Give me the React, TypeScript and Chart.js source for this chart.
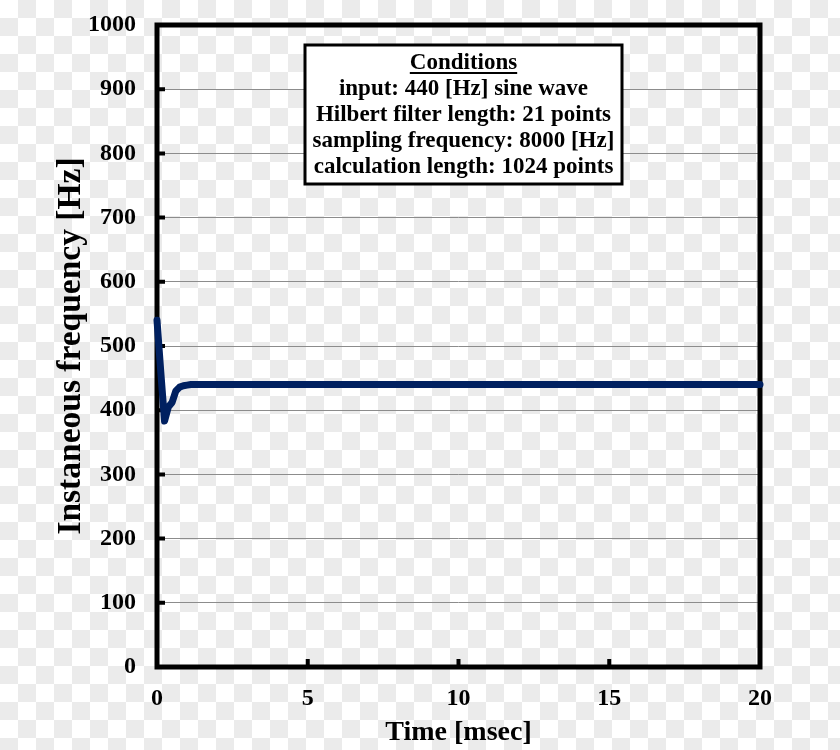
import React, { useEffect, useRef } from "react";
import { Chart, registerables } from "chart.js";

Chart.register(...registerables);

// ---- data ----
const timeMs = [0, 0.125, 0.25, 0.375, 0.5, 0.625, 0.75, 0.875, 1.0, 1.125, 20];
const freqHz = [540, 460, 383, 405, 412, 430, 436, 438, 439, 440, 440];
const xTickValues = [0, 5, 10, 15, 20];
const yTickValues = [0, 100, 200, 300, 400, 500, 600, 700, 800, 900, 1000];
const xTitle = "Time [msec]";
const yTitle = "Instaneous frequency [Hz]";
const conditionsTitle = "Conditions";
const conditionsLines = [
  "input: 440 [Hz] sine wave",
  "Hilbert filter length: 21 points",
  "sampling frequency: 8000 [Hz]",
  "calculation length: 1024 points",
];

const SERIF = "'Liberation Serif', 'Times New Roman', serif";

const checkerPlugin = {
  id: "checker",
  beforeDraw(chart: any) {
    const { ctx, width, height } = chart;
    ctx.save();
    ctx.fillStyle = "#ffffff";
    ctx.fillRect(0, 0, width, height);
    ctx.fillStyle = "#ebebeb";
    const s = 18;
    for (let j = 0; j * s < height; j++) {
      for (let i = 0; i * s < width; i++) {
        if ((i + j) % 2 === 1) ctx.fillRect(i * s, j * s, s, s);
      }
    }
    ctx.restore();
  },
};

const framePlugin = {
  id: "frame",
  beforeDatasetsDraw(chart: any) {
    const { ctx, chartArea } = chart;
    const { left, right, top, bottom } = chartArea;
    const xs = chart.scales.x;
    const ys = chart.scales.y;
    ctx.save();
    ctx.strokeStyle = "#000";
    ctx.lineWidth = 5;
    ctx.strokeRect(left, top, right - left, bottom - top);
    ctx.lineWidth = 4;
    ctx.beginPath();
    yTickValues.forEach((v) => {
      const py = ys.getPixelForValue(v);
      ctx.moveTo(left, py);
      ctx.lineTo(left + 8, py);
    });
    xTickValues.forEach((v) => {
      const px = xs.getPixelForValue(v);
      ctx.moveTo(px, bottom);
      ctx.lineTo(px, bottom - 8);
    });
    ctx.stroke();
    ctx.restore();
  },
};

const conditionsPlugin = {
  id: "conditions",
  afterDraw(chart: any) {
    const { ctx, chartArea } = chart;
    const boxLeft = chartArea.left + 148;
    const boxTop = chartArea.top + 20;
    const boxW = 317;
    const boxH = 139;
    const cx = boxLeft + boxW / 2;
    ctx.save();
    ctx.fillStyle = "#ffffff";
    ctx.fillRect(boxLeft, boxTop, boxW, boxH);
    ctx.strokeStyle = "#000";
    ctx.lineWidth = 3;
    ctx.strokeRect(boxLeft, boxTop, boxW, boxH);
    ctx.fillStyle = "#000";
    ctx.font = `bold 23px ${SERIF}`;
    ctx.textAlign = "center";
    ctx.textBaseline = "middle";
    const lineH = 26;
    const firstY = boxTop + 18;
    ctx.fillText(conditionsTitle, cx, firstY);
    const tw = ctx.measureText(conditionsTitle).width;
    ctx.fillRect(cx - tw / 2, firstY + 9, tw, 2);
    conditionsLines.forEach((t, i) => {
      ctx.fillText(t, cx, firstY + lineH * (i + 1));
    });
    ctx.restore();
  },
};

export default function App() {
  const canvasRef = useRef<HTMLCanvasElement | null>(null);

  useEffect(() => {
    const canvas = canvasRef.current;
    if (!canvas) return;
    const chart = new Chart(canvas, {
      type: "line",
      data: {
        datasets: [
          {
            data: timeMs.map((t, i) => ({ x: t, y: freqHz[i] })),
            borderColor: "#002060",
            backgroundColor: "#002060",
            borderWidth: 7,
            pointRadius: 0,
            tension: 0,
            borderCapStyle: "round",
            borderJoinStyle: "round",
            clip: false,
          } as any,
        ],
      },
      options: {
        animation: false,
        responsive: false,
        maintainAspectRatio: false,
        layout: { padding: { left: 0, right: 80, top: 25, bottom: 0 } },
        plugins: { legend: { display: false }, tooltip: { enabled: false } },
        scales: {
          x: {
            type: "linear",
            min: 0,
            max: 20,
            afterFit: (s: any) => {
              s.height = 83;
              s.paddingLeft = 0;
              s.paddingRight = 0;
            },
            afterBuildTicks: (s: any) => {
              s.ticks = xTickValues.map((v) => ({ value: v }));
            },
            grid: { display: false, drawTicks: false },
            border: { display: false },
            ticks: {
              color: "#000",
              padding: 17,
              font: { family: SERIF, size: 24, weight: "bold" },
              callback: (v: any) => String(v),
            },
            title: {
              display: true,
              text: xTitle,
              color: "#000",
              font: { family: SERIF, size: 28, weight: "bold" },
              padding: { top: 0, bottom: 0 },
            },
          },
          y: {
            type: "linear",
            min: 0,
            max: 1000,
            afterFit: (s: any) => {
              s.width = 157;
              s.paddingTop = 0;
              s.paddingBottom = 0;
            },
            afterBuildTicks: (s: any) => {
              s.ticks = yTickValues.map((v) => ({ value: v }));
            },
            grid: { display: true, drawTicks: false, color: "#8c8c8c", lineWidth: 1 },
            border: { display: false },
            ticks: {
              color: "#000",
              padding: 21,
              font: { family: SERIF, size: 24, weight: "bold" },
              callback: (v: any) => String(v),
            },
            title: {
              display: true,
              text: yTitle,
              color: "#000",
              font: { family: SERIF, size: 33.5, weight: "bold" },
              padding: { top: 51, bottom: 0 },
            },
          },
        },
      },
      plugins: [checkerPlugin, framePlugin, conditionsPlugin],
    });
    return () => chart.destroy();
  }, []);

  return (
    <div style={{ position: "absolute", left: 0, top: 0, width: 840, height: 750 }}>
      <canvas ref={canvasRef} width={840} height={750} style={{ display: "block" }} />
    </div>
  );
}
